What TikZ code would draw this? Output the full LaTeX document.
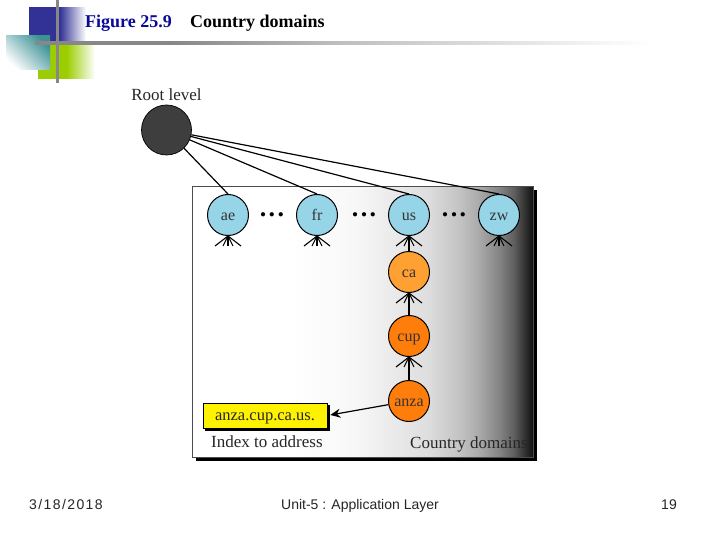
\documentclass[tikz,border=0pt]{standalone}
\usepackage{fontspec}
\setmainfont{Liberation Serif}
\newfontfamily\sansf{Liberation Sans}
\newfontfamily\sanswide{Liberation Sans}[LetterSpace=10]
\usetikzlibrary{arrows.meta}
\definecolor{nodeblue}{RGB}{150,212,232}
\definecolor{lightorange}{RGB}{255,160,50}
\definecolor{deeporange}{RGB}{255,125,10}
\definecolor{rootgray}{RGB}{62,62,62}
\definecolor{titleblue}{RGB}{10,10,150}
\definecolor{decoblue}{RGB}{50,50,150}
\definecolor{decogreen}{RGB}{155,205,0}
\definecolor{decoteal}{RGB}{60,145,150}
\definecolor{rulegray}{RGB}{135,135,135}
\pgfdeclarehorizontalshading{boxgrad}{100bp}{color(0bp)=(white);color(39.4bp)=(white);color(49bp)=(black!3);color(59.5bp)=(black!13);color(64bp)=(black!23);color(67bp)=(black!33);color(70bp)=(black!48);color(72.2bp)=(black!63);color(74.2bp)=(black!85);color(75.5bp)=(black!98);color(100bp)=(black)}
\pgfdeclarehorizontalshading{bluegrad}{100bp}{color(0bp)=(decoblue);color(52bp)=(decoblue);color(75bp)=(white);color(100bp)=(white)}
\pgfdeclarehorizontalshading{greengrad}{100bp}{color(0bp)=(decogreen);color(50bp)=(decogreen);color(75bp)=(white);color(100bp)=(white)}
\pgfdeclarehorizontalshading{rulegrad}{100bp}{color(0bp)=(rulegray);color(36bp)=(rulegray);color(50bp)=(black!25);color(65bp)=(black!10);color(75bp)=(white);color(100bp)=(white)}
\tikzset{
  dom/.style={circle,draw=black,line width=1pt,minimum size=41pt,inner sep=0pt,font=\fontsize{16}{16}\selectfont,text=black!80,text height=11pt,text depth=0pt},
  blue dom/.style={dom,fill=nodeblue},
  ca dom/.style={dom,fill=lightorange},
  deep dom/.style={dom,fill=deeporange},
  link/.style={line width=1.2pt,black},
  arrow link/.style={link,shorten >=3pt,-{Stealth[length=10pt,width=9pt]}},
  fan/.style={line width=1.1pt,black},
  lab/.style={font=\fontsize{17}{17}\selectfont,text=black!85,inner sep=0pt},
  foot/.style={font=\sansf\fontsize{14}{14}\selectfont,text=black!85,inner sep=0pt},
  ttl/.style={font=\bfseries\fontsize{18}{18}\selectfont,inner sep=0pt},
  dots/.style={font=\bfseries\fontsize{26}{26}\selectfont,inner sep=0pt},
}
\newcommand{\fanout}[1]{%
  \draw[fan] (#1.south) -- ++(-13,10);
  \draw[fan] (#1.south) -- ++(-5,10);
  \draw[fan] (#1.south) -- ++(0,10);
  \draw[fan] (#1.south) -- ++(5,10);
  \draw[fan] (#1.south) -- ++(13,10);}
\newcommand{\threedots}{.\hspace{2.5pt}.\hspace{2.5pt}.}
\begin{document}
\begin{tikzpicture}[x=1pt,y=-1pt]
\useasboundingbox (0,0) rectangle (720,540);
\fill[white] (0,0) rectangle (720,540);
% slide decoration
\shade[shading=bluegrad] (29,8) rectangle (86,42);
\shade[shading=greengrad] (38,45) rectangle (95,79);
\shade[top color=decoteal,bottom color=white,shading angle=-45] (6,36) rectangle (50,70);
\fill[rulegray] (55.5,0) rectangle (58.5,83);
\shade[shading=rulegrad] (35,41.8) rectangle (650,44.8);
% titles
\node[ttl,text=titleblue,anchor=base west] (t1) at (85,28) {Figure 25.9};
\node[ttl,text=black,anchor=base west] (t2) at (190,28) {Country domains};
% domain panel
\fill[black] (196,190) rectangle (537,461);
\shade[shading=boxgrad,draw=black!70,line width=0.6pt] (192,186.5) rectangle (533,457);
% root
\node[lab,anchor=base] (rootlab) at (166.5,101) {Root level};
\node[circle,draw=black,fill=rootgray,line width=0.7pt,minimum size=50pt,inner sep=0pt] (root) at (166.5,130) {};
% domains
\node[blue dom] (ae) at (228,215) {ae};
\node[blue dom] (fr) at (317,215) {fr};
\node[blue dom] (us) at (409,215) {us};
\node[blue dom] (zw) at (499,215) {zw};
\node[ca dom] (ca) at (409,272) {ca};
\node[deep dom] (cup) at (409,336) {cup};
\node[deep dom] (anza) at (409,401) {anza};
% ellipses
\node[dots] (d1) at (272,214.5) {\threedots};
\node[dots] (d2) at (364,214.5) {\threedots};
\node[dots] (d3) at (454,214.5) {\threedots};
% root links
\draw[link] (root) -- (ae.north);
\draw[link] (root) -- (fr.north);
\draw[link] (root) -- (us.north);
\draw[link] (root) -- (zw.north);
% fans
\fanout{ae}\fanout{fr}\fanout{us}\fanout{zw}\fanout{ca}\fanout{cup}
% vertical links
\draw[link] (ca) -- (us);
\draw[link] (cup) -- (ca);
\draw[link] (anza) -- (cup);
% address box
\fill[black] (205,405) rectangle (329.5,430.5);
\node[draw=black,fill=yellow,line width=0.7pt,minimum width=124pt,minimum height=25pt,inner sep=0pt,font=\fontsize{16.5}{16.5}\selectfont,text=black!85,text height=9pt,text depth=0pt] (addr) at (265,415.5) {anza.cup.ca.us.};
\draw[arrow link] (anza) -- (addr.east);
% captions
\node[lab,anchor=base west] (idx) at (211,447) {Index to address};
\node[lab,anchor=base west] (cd) at (410,448) {Country domains};
% footer
\node[foot,anchor=base west,font=\sanswide\fontsize{14}{14}\selectfont] (f1) at (29,509) {3/18/2018};
\node[foot,anchor=base] (f2) at (360,509) {Unit-5 : Application Layer};
\node[foot,anchor=base] (f3) at (669,509) {19};
\end{tikzpicture}
\end{document}
